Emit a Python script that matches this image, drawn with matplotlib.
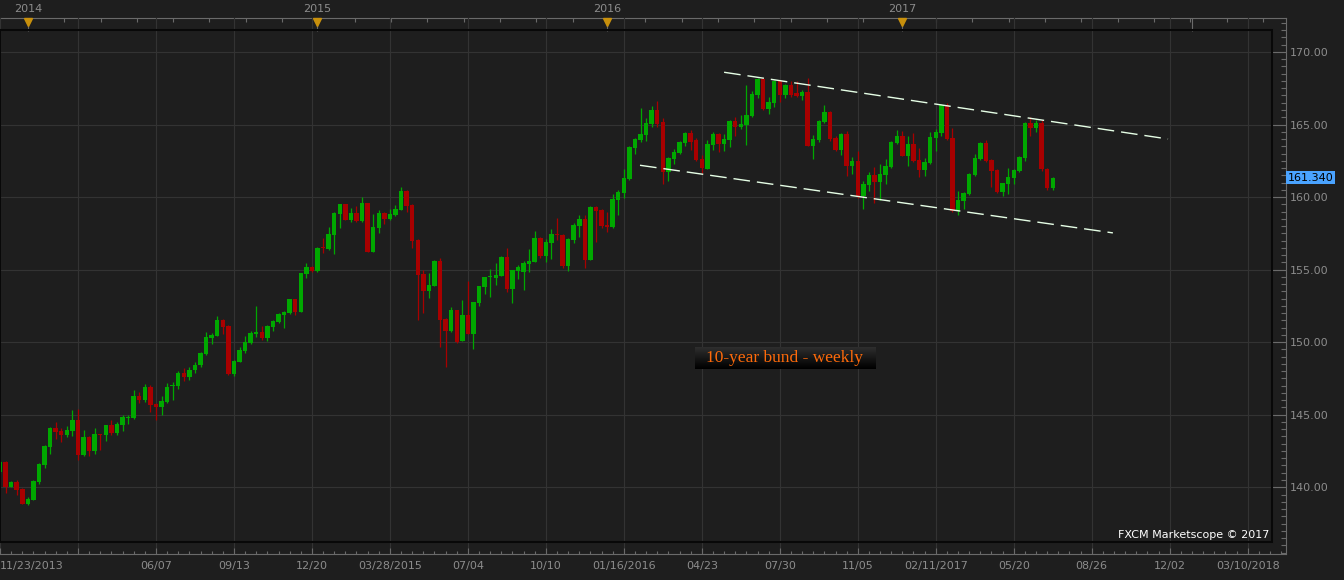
import numpy as np
import pandas as pd
import matplotlib
matplotlib.use('Agg')
import matplotlib.pyplot as plt
import matplotlib.transforms as mtrans
from matplotlib.patches import Rectangle
from matplotlib.ticker import MultipleLocator, FixedLocator

# weekly bars of the 10-year Bund future, first bar 11/23/2013
start_date = '2013-11-23'

opens = [141.07, 141.74, 140.04, 140.35, 139.88, 138.87, 139.15, 140.38, 141.56, 142.80,
         144.09, 143.88, 143.63, 143.90, 144.64, 142.22, 143.47, 142.50, 143.67, 143.63,
         144.29, 143.74, 144.31, 144.80, 144.80, 146.31, 146.02, 146.91, 145.74, 145.56,
         145.90, 146.95, 147.00, 147.85, 147.60, 148.10, 148.42, 149.18, 150.31, 150.43,
         151.53, 151.12, 147.83, 148.66, 149.39, 149.95, 150.59, 150.70, 150.29, 151.05,
         151.39, 151.87, 152.01, 152.98, 152.10, 154.72, 155.18, 154.93, 156.54, 156.42,
         157.39, 158.84, 159.52, 158.42, 158.90, 158.35, 159.59, 156.24, 157.87, 158.90,
         158.49, 158.77, 159.11, 160.42, 159.46, 157.04, 154.70, 153.55, 153.90, 155.60,
         151.60, 150.80, 152.22, 150.08, 151.87, 150.59, 152.72, 153.82, 154.50, 154.45,
         154.58, 155.87, 153.69, 154.93, 154.85, 155.41, 155.53, 157.18, 155.94, 156.86,
         157.46, 157.39, 155.25, 157.04, 158.01, 158.49, 155.69, 159.32, 159.11, 158.08,
         157.96, 159.82, 160.30, 161.25, 163.40, 163.93, 164.28, 165.06, 166.00, 165.18,
         161.75, 162.63, 163.04, 163.73, 164.42, 163.93, 162.63, 161.94, 163.59, 164.35,
         163.66, 163.93, 165.24, 164.83, 164.97, 165.59, 167.04, 168.14, 166.07, 166.49,
         168.00, 167.04, 167.73, 167.17, 166.97, 167.24, 163.54, 163.96, 165.18, 165.86,
         164.07, 163.25, 164.35, 162.14, 162.49, 160.05, 160.83, 161.52, 161.04, 161.52,
         162.08, 163.73, 164.21, 162.83, 163.66, 162.56, 161.87, 162.35, 164.07, 164.42,
         166.37, 164.07, 159.06, 159.73, 160.21, 161.52, 162.63, 163.73, 162.56, 161.87,
         160.35, 160.90, 161.32, 161.80, 162.70, 165.11, 164.76, 165.11, 161.90, 160.60]

highs = [141.90, 141.80, 140.43, 140.50, 139.95, 139.31, 140.50, 141.65, 142.90, 144.12,
         144.50, 144.11, 144.25, 145.33, 145.38, 143.95, 143.54, 144.09, 143.70, 144.32,
         144.64, 144.52, 144.98, 145.00, 146.71, 146.57, 147.12, 147.05, 145.78, 146.29,
         147.17, 147.28, 148.00, 148.20, 148.30, 148.60, 149.30, 150.70, 150.61, 151.83,
         151.60, 151.20, 148.75, 149.67, 150.43, 150.78, 152.50, 151.10, 151.20, 151.50,
         152.00, 152.12, 153.00, 153.00, 154.80, 155.46, 155.25, 156.55, 157.20, 157.94,
         158.95, 159.55, 159.55, 159.25, 159.39, 160.00, 159.62, 158.84, 159.11, 158.97,
         159.18, 159.46, 160.70, 160.49, 159.50, 157.10, 154.98, 154.77, 155.67, 155.80,
         151.65, 152.43, 152.25, 152.90, 154.24, 152.80, 153.90, 154.52, 155.04, 155.46,
         155.95, 156.49, 155.00, 155.34, 155.58, 156.42, 157.66, 157.27, 157.11, 157.80,
         158.58, 157.45, 157.15, 158.24, 158.77, 158.77, 159.40, 159.40, 159.20, 158.97,
         160.21, 160.49, 161.94, 163.52, 164.05, 166.14, 165.43, 166.28, 166.62, 165.45,
         162.75, 163.31, 163.87, 164.45, 164.62, 164.10, 162.90, 163.93, 164.49, 164.40,
         164.35, 165.30, 165.52, 165.66, 167.73, 167.31, 168.20, 168.20, 166.90, 168.05,
         168.05, 167.80, 168.00, 168.00, 167.37, 168.20, 164.28, 165.30, 166.35, 165.90,
         164.20, 164.40, 164.56, 162.77, 163.18, 161.11, 161.73, 162.08, 162.28, 162.63,
         163.85, 164.62, 164.55, 164.21, 164.42, 163.38, 162.70, 164.50, 164.70, 166.42,
         166.45, 164.76, 160.42, 160.35, 161.65, 163.00, 163.80, 163.93, 162.60, 161.95,
         161.00, 162.00, 161.90, 162.80, 165.15, 165.52, 165.30, 165.30, 162.00, 161.40]

lows = [140.90, 139.59, 139.99, 139.47, 138.85, 138.80, 139.10, 140.25, 141.35, 142.32,
        143.35, 143.14, 143.45, 143.56, 141.88, 142.14, 142.16, 142.30, 142.57, 143.20,
        143.63, 143.60, 143.90, 144.36, 144.70, 145.83, 145.88, 145.21, 144.64, 144.98,
        145.83, 146.02, 146.80, 147.30, 147.40, 147.90, 148.30, 149.12, 149.90, 150.40,
        150.59, 147.75, 147.69, 148.60, 149.28, 149.88, 150.34, 150.17, 150.10, 150.79,
        151.30, 151.00, 151.95, 151.85, 152.05, 154.45, 154.85, 154.85, 156.17, 156.35,
        156.10, 157.90, 158.40, 158.28, 158.30, 158.30, 156.20, 156.20, 157.53, 158.15,
        158.40, 158.70, 159.10, 158.97, 156.51, 151.55, 152.03, 153.07, 153.85, 149.69,
        148.31, 150.70, 149.95, 150.05, 150.55, 149.55, 152.52, 153.35, 153.14, 153.96,
        154.55, 153.48, 152.72, 154.38, 153.60, 154.86, 155.50, 155.80, 155.55, 155.73,
        157.04, 155.13, 154.93, 156.84, 157.25, 155.13, 155.65, 156.93, 157.90, 157.62,
        157.90, 158.79, 159.96, 161.20, 162.99, 163.80, 163.89, 164.85, 164.85, 160.92,
        161.13, 162.28, 162.97, 163.52, 163.25, 162.50, 161.66, 161.90, 163.25, 163.11,
        163.18, 163.45, 164.21, 164.69, 163.59, 165.50, 166.83, 166.00, 165.73, 166.20,
        166.55, 166.83, 166.90, 166.90, 166.70, 163.50, 162.63, 163.80, 165.10, 163.86,
        163.20, 162.92, 161.45, 161.59, 159.94, 159.18, 160.42, 159.59, 159.80, 160.90,
        162.00, 163.66, 162.80, 162.14, 162.45, 161.39, 161.45, 162.30, 163.18, 164.20,
        163.95, 159.00, 158.79, 159.18, 160.15, 161.45, 162.55, 162.40, 160.70, 160.30,
        160.07, 160.21, 160.90, 161.70, 162.50, 164.21, 164.50, 161.80, 160.50, 160.50]

closes = [141.74, 140.04, 140.36, 139.81, 138.87, 139.20, 140.43, 141.60, 142.85, 144.09,
          143.83, 143.63, 143.95, 144.64, 142.22, 143.47, 142.50, 143.67, 143.63, 144.29,
          143.74, 144.36, 144.87, 144.87, 146.31, 146.02, 146.91, 145.67, 145.51, 145.95,
          146.91, 147.00, 147.85, 147.60, 148.10, 148.45, 149.24, 150.36, 150.50, 151.53,
          151.05, 147.83, 148.70, 149.46, 150.01, 150.64, 150.70, 150.29, 151.12, 151.46,
          151.94, 152.08, 152.98, 152.10, 154.77, 155.18, 154.93, 156.50, 156.47, 157.46,
          158.90, 159.52, 158.44, 158.90, 158.35, 159.59, 156.24, 157.94, 158.90, 158.49,
          158.84, 159.18, 160.42, 159.39, 157.00, 154.65, 153.55, 153.94, 155.60, 151.55,
          150.80, 152.22, 150.03, 151.87, 150.59, 152.77, 153.87, 154.49, 154.55, 154.63,
          155.87, 153.69, 154.98, 155.18, 155.46, 155.60, 157.18, 155.94, 156.91, 157.46,
          157.37, 155.25, 157.11, 158.08, 158.49, 155.69, 159.34, 159.06, 158.03, 157.96,
          159.87, 160.35, 161.32, 163.45, 164.00, 164.35, 165.11, 166.00, 165.06, 161.75,
          162.69, 163.11, 163.80, 164.42, 163.80, 162.56, 162.01, 163.66, 164.35, 163.66,
          164.00, 165.24, 164.83, 165.04, 165.66, 167.11, 168.14, 166.07, 166.55, 168.00,
          167.04, 167.73, 167.04, 166.97, 167.24, 163.54, 164.00, 165.24, 165.86, 164.00,
          163.25, 164.35, 162.14, 162.49, 160.05, 160.90, 161.52, 161.04, 161.59, 162.14,
          163.80, 164.21, 162.83, 163.66, 162.49, 161.87, 162.42, 164.14, 164.49, 166.37,
          164.00, 159.06, 159.80, 160.28, 161.59, 162.69, 163.73, 162.49, 161.80, 160.35,
          160.97, 161.38, 161.87, 162.77, 165.11, 164.76, 165.11, 161.90, 160.60, 161.34]

# hand-drawn trend channel (week index, price)
upper_w = [130.0, 209.7]
upper_p = [168.60, 164.00]
lower_w = [114.9, 199.8]
lower_p = [162.19, 157.53]

last_price = 161.34
price_ticks = [140, 145, 150, 155, 160, 165, 170]

bg = '#1e1e1e'
up_col = '#00a800'
dn_col = '#a80000'
axis_col = '#6a6a6a'
text_col = '#8c8c8c'

o = np.array(opens)
h = np.array(highs)
l = np.array(lows)
c = np.array(closes)
weeks = np.arange(len(o))
all_dates = pd.date_range(start_date, periods=240, freq='7D')

fig = plt.figure(figsize=(13.44, 5.8), dpi=100, facecolor=bg)
ax = fig.add_axes([0, 26 / 580, 1286 / 1344, 536 / 580])
ax.set_facecolor(bg)

# candles
cols = np.where(c >= o, up_col, dn_col)
body_lo = np.minimum(o, c)
body_h = np.maximum(np.abs(c - o), 0.07)
ax.vlines(weeks, l, h, colors=cols, lw=0.9, zorder=2)
ax.bar(weeks, body_h, bottom=body_lo, width=0.8, color=cols, lw=0, zorder=3)

# channel lines
ax.plot(upper_w, upper_p, color='#e6ffe6', lw=1.0, dashes=(12, 5), zorder=4)
ax.plot(lower_w, lower_p, color='#e6ffe6', lw=1.0, dashes=(12, 5), zorder=4)

# bottom date axis
tick_w = np.arange(0, 232, 14)
labels = []
seen = set()
for w in tick_w:
    d = all_dates[w]
    if d.year not in seen:
        seen.add(d.year)
        labels.append(d.strftime('%m/%d/%Y'))
    else:
        labels.append(d.strftime('%m/%d'))
labels[1] = ''
ax.set_xticks(tick_w, labels)
ax.get_xticklabels()[0].set_horizontalalignment('left')
ax.xaxis.set_minor_locator(MultipleLocator(2))
ax.tick_params(axis='x', which='major', direction='in', length=4.5, width=0.8,
               color=axis_col, labelcolor=text_col, labelsize=8, pad=5)
ax.tick_params(axis='x', which='minor', direction='in', length=2.5, width=0.8, color=axis_col)

# right price axis
ax.yaxis.tick_right()
ax.set_yticks(price_ticks, [f'{v:.2f}' for v in price_ticks])
ax.yaxis.set_minor_locator(MultipleLocator(0.5))
ax.tick_params(axis='y', which='major', direction='in', length=10, width=0.8,
               color=axis_col, labelcolor=text_col, labelsize=8, pad=3)
ax.tick_params(axis='y', which='minor', direction='in', length=3.6, width=0.8, color=axis_col)

ax.grid(True, which='major', color='#333333', lw=0.8)
ax.set_axisbelow(True)
for s in ['left', 'top']:
    ax.spines[s].set_visible(False)
for s in ['bottom', 'right']:
    ax.spines[s].set_color(axis_col)

# top year axis
year_w = []
year_lbl = []
for y in [2014, 2015, 2016, 2017, 2018]:
    jan1 = pd.Timestamp(f'{y}-01-01')
    idx = int(np.where((all_dates <= jan1) & (all_dates + pd.Timedelta(days=7) > jan1))[0][0])
    year_w.append(idx)
    year_lbl.append(str(y) if y < 2018 else '')
sec = ax.secondary_xaxis('top')
sec.set_xticks(year_w, year_lbl)
step = 365.25 / 7 / 8
sec.xaxis.set_minor_locator(FixedLocator(year_w[0] + step * np.arange(-1, 40)))
sec.tick_params(which='major', direction='in', length=9, width=0.8, color=axis_col,
                labelcolor=text_col, labelsize=8, pad=3)
sec.tick_params(which='minor', direction='in', length=3, width=0.8, color=axis_col)
sec.spines['top'].set_color(axis_col)

trans = mtrans.blended_transform_factory(ax.transData, ax.transAxes)
ax.plot(year_w[:4], [0.9925] * 4, ls='none', marker='v', ms=6, color='#c8900c',
        transform=trans, clip_on=False, zorder=6)

# inner frame
ax.add_patch(Rectangle((0, 12 / 536), 1272 / 1286, 512 / 536, transform=ax.transAxes,
                       fill=False, edgecolor='#080808', lw=1.5, zorder=5))

# title box with gradient
grad = np.linspace(0.18, 0.0, 24)[:, None, None] * np.ones((1, 1, 3))
ax.imshow(grad, extent=[695 / 1286, 875 / 1286, (554 - 369) / 536, (554 - 347) / 536],
          transform=ax.transAxes, aspect='auto', zorder=6, interpolation='bilinear')
ax.text((695 + 875) / 2 / 1286, (554 - 358) / 536, '10-year bund - weekly',
        transform=ax.transAxes, ha='center', va='center', color='#ff6a0a',
        fontsize=12.5, family='Liberation Serif', zorder=7)

ax.text(1269 / 1286, (554 - 535) / 536, 'FXCM Marketscope \u00a9 2017', transform=ax.transAxes,
        ha='right', va='center', color='white', fontsize=8, zorder=7)

ytrans = mtrans.blended_transform_factory(ax.transAxes, ax.transData)
ax.text(1.0015, last_price, f'{last_price:.3f}', transform=ytrans, ha='left', va='center',
        fontsize=8, color='black', clip_on=False, zorder=10,
        bbox=dict(boxstyle='square,pad=0.15', fc='#4aa3ff', ec='none'))

ax.set_xlim(0, 1286 / 5.57)
ax.set_ylim(135.40, 172.34)

fig.savefig('out.png', dpi=100, facecolor=bg)
